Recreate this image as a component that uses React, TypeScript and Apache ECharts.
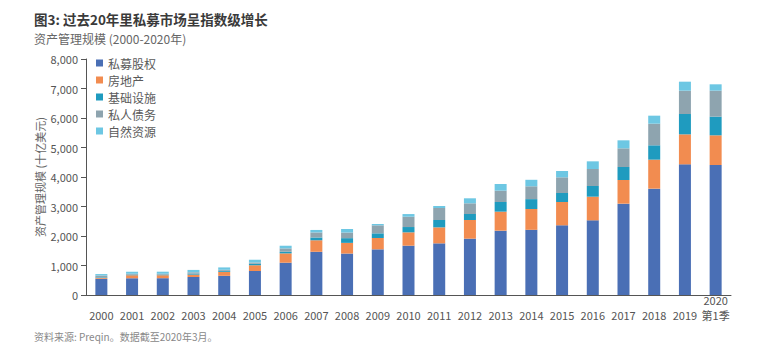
import React, { useEffect, useRef } from "react";
import * as echarts from "echarts";

const years = ["2000","2001","2002","2003","2004","2005","2006","2007","2008","2009","2010","2011","2012","2013","2014","2015","2016","2017","2018","2019","2020\n第1季"];
const privateEquity = [550,570,570,610,650,815,1095,1465,1405,1548,1672,1751,1910,2181,2210,2362,2531,3096,3605,4429,4407];
const realEstate = [30,100,100,80,135,190,316,390,362,384,452,542,633,644,705,791,802,802,983,1017,1006];
const infrastructure = [20,20,20,35,35,55,56,95,160,158,180,249,203,328,335,305,362,441,486,689,633];
const privateDebt = [60,30,30,45,35,45,113,170,190,271,350,407,362,384,435,531,576,633,734,791,881];
const naturalResources = [50,70,70,80,80,90,90,85,120,45,90,68,170,226,220,215,260,271,271,305,215];

const seriesNames = ["私募股权","房地产","基础设施","私人债务","自然资源"];
const seriesData = [privateEquity, realEstate, infrastructure, privateDebt, naturalResources];
const colors = ["#4a6fb5","#f28c50","#1f9bbf","#8ea4af","#6dc7e3"];

const FONT = "'Noto Sans CJK SC', 'Noto Sans', sans-serif";

export default function App() {
  const ref = useRef<HTMLDivElement>(null);
  useEffect(() => {
    if (!ref.current) return;
    const chart = echarts.init(ref.current, undefined, { renderer: "svg" });
    chart.setOption({
      animation: false,
      textStyle: { fontFamily: FONT },
      color: colors,
      graphic: [
        { type: "text", left: 34, top: 12, style: { text: "图3: 过去20年里私募市场呈指数级增长", font: `bold 13.5px ${FONT}`, fill: "#3a3a3a" } },
        { type: "text", left: 34, top: 32, style: { text: "资产管理规模 (2000-2020年)", font: `12px ${FONT}`, fill: "#666" } },
        { type: "text", left: 34, top: 331, style: { text: "资料来源: Preqin。数据截至2020年3月。", font: `10px ${FONT}`, fill: "#888" } },
      ],
      legend: {
        orient: "vertical",
        left: 96,
        top: 56,
        padding: 0,
        itemWidth: 7,
        itemHeight: 7,
        itemGap: 3,
        icon: "rect",
        data: seriesNames,
        textStyle: { fontSize: 12, color: "#5a5a5a", lineHeight: 14, fontFamily: FONT },
      },
      grid: { left: 86, right: 29, top: 59, bottom: 58, containLabel: false },
      xAxis: {
        type: "category",
        data: years,
        axisLine: { lineStyle: { color: "#555", width: 1 } },
        axisTick: { show: false },
        axisLabel: { color: "#555", fontSize: 11, margin: 27, verticalAlign: "bottom", lineHeight: 15, interval: 0, fontFamily: FONT },
      },
      yAxis: {
        type: "value",
        min: 0,
        max: 8000,
        interval: 1000,
        name: "资产管理规模 (十亿美元)",
        nameLocation: "middle",
        nameGap: 41,
        nameMoveOverlap: false,
        nameTextStyle: { color: "#666", fontSize: 11, fontFamily: FONT },
        axisLine: { show: true, lineStyle: { color: "#555", width: 1 } },
        axisTick: { show: true, length: 5, lineStyle: { color: "#555" } },
        splitLine: { show: false },
        axisLabel: {
          color: "#555",
          fontSize: 11,
          margin: 8,
          formatter: (v: number) => v.toLocaleString("en-US"),
        },
      },
      series: seriesNames.map((name, i) => ({
        name,
        type: "bar",
        stack: "total",
        barWidth: 12,
        data: seriesData[i],
        itemStyle: { color: colors[i] },
      })),
    });
    return () => chart.dispose();
  }, []);
  return <div ref={ref} style={{ width: 760, height: 353, position: "absolute", left: 0, top: 0 }} />;
}
